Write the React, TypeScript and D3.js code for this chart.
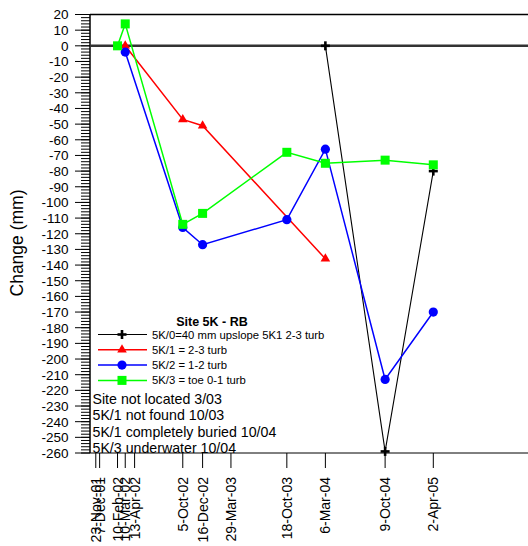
import React from "react";
import * as d3 from "d3";

const tickDates = ["2001-11-23","2001-12-07","2002-02-10","2002-03-10","2002-04-13","2002-10-05","2002-12-16","2003-03-29","2003-10-18","2004-03-06","2004-10-09","2005-04-02"];
const tickLabels = ["23-Nov-01","7-Dec-01","10-Feb-02","10-Mar-02","13-Apr-02","5-Oct-02","16-Dec-02","29-Mar-03","18-Oct-03","6-Mar-04","9-Oct-04","2-Apr-05"];

const s0Dates = ["2004-03-06","2004-10-09","2005-04-02"];
const s0Values = [0, -259, -80];
const s1Dates = ["2002-03-10","2002-10-05","2002-12-16","2004-03-06"];
const s1Values = [0, -47, -51, -136];
const s2Dates = ["2002-03-10","2002-10-05","2002-12-16","2003-10-18","2004-03-06","2004-10-09","2005-04-02"];
const s2Values = [-4, -116, -127, -111, -66, -213, -170];
const s3Dates = ["2002-02-10","2002-03-10","2002-10-05","2002-12-16","2003-10-18","2004-03-06","2004-10-09","2005-04-02"];
const s3Values = [0, 14, -114, -107, -68, -75, -73, -76];

const seriesNames = ["5K/0=40 mm upslope 5K1 2-3 turb","5K/1 = 2-3 turb","5K/2 = 1-2 turb","5K/3 = toe 0-1 turb"];
const seriesColors = ["#000000","#ff0000","#0000ff","#00ff00"];
const seriesMarkers = ["plus","triangle","circle","square"];
const notes = ["Site not located 3/03","5K/1 not found 10/03","5K/1 completely buried 10/04","5K/3 underwater 10/04"];

const parse = d3.timeParse("%Y-%m-%d");

export default function App() {
  const W = 528, H = 546;
  const left = 90, top = 14.5, bottom = 453;
  const x = d3.scaleTime().domain([parse("2001-11-02")!, parse("2006-03-12")!]).range([left, W]);
  const y = d3.scaleLinear().domain([-260, 20]).range([bottom, top]);
  const font = "Liberation Sans, Arial, sans-serif";

  const series = [
    { d: s0Dates, v: s0Values },
    { d: s1Dates, v: s1Values },
    { d: s2Dates, v: s2Values },
    { d: s3Dates, v: s3Values },
  ].map((s, i) => ({
    pts: s.d.map((dd, j) => [x(parse(dd)!), y(s.v[j])] as [number, number]),
    color: seriesColors[i],
    marker: seriesMarkers[i],
    name: seriesNames[i],
  }));

  const line = d3.line<[number, number]>();

  const marker = (m: string, cx: number, cy: number, color: string, key: string) => {
    if (m === "plus")
      return (
        <g key={key} stroke={color} strokeWidth={2.6}>
          <line x1={cx - 4.5} x2={cx + 4.5} y1={cy} y2={cy} />
          <line x1={cx} x2={cx} y1={cy - 4.5} y2={cy + 4.5} />
        </g>
      );
    if (m === "triangle")
      return <path key={key} d={d3.symbol(d3.symbolTriangle, 40)()!} transform={`translate(${cx},${cy})`} fill={color} />;
    if (m === "circle") return <circle key={key} cx={cx} cy={cy} r={4.6} fill={color} />;
    return <rect key={key} x={cx - 4.5} y={cy - 4.5} width={9} height={9} fill={color} />;
  };

  const minorTicks = d3.range(-260, 21, 2);
  const majorTicks = d3.range(-260, 21, 10);

  return (
    <svg width={W} height={H} style={{ position: "absolute", left: 0, top: 0, background: "#fff" }} fontFamily={font}>
      {/* frame */}
      <line x1={left} x2={W} y1={top} y2={top} stroke="#000" strokeWidth={1.6} />
      <line x1={left} x2={W} y1={bottom} y2={bottom} stroke="#000" strokeWidth={1} />
      <line x1={left} x2={left} y1={top} y2={bottom} stroke="#000" strokeWidth={1.5} />
      <line x1={left} x2={W} y1={y(0)} y2={y(0)} stroke="#333" strokeWidth={2.5} />
      {/* y ticks */}
      {minorTicks.map((t) => (
        <line key={"mn" + t} x1={81} x2={left} y1={y(t)} y2={y(t)} stroke="#000" strokeWidth={1} />
      ))}
      {majorTicks.map((t) => (
        <g key={"mj" + t}>
          <line x1={75} x2={left} y1={y(t)} y2={y(t)} stroke="#000" strokeWidth={1} />
          <text x={68.5} y={y(t)} dy="0.36em" textAnchor="end" fontSize={13.5} fill="#000">{t}</text>
        </g>
      ))}
      <text transform={`translate(23,243) rotate(-90)`} textAnchor="middle" fontSize={17.5} fill="#000">Change (mm)</text>
      {/* x ticks */}
      {tickDates.map((td, i) => {
        const tx = x(parse(td)!);
        return (
          <g key={"xt" + i}>
            <line x1={tx} x2={tx} y1={bottom} y2={468} stroke="#000" strokeWidth={1} />
            <text transform={`translate(${tx},477) rotate(-90)`} dy="0.36em" textAnchor="end" fontSize={14} fill="#000">{tickLabels[i]}</text>
          </g>
        );
      })}
      {/* series */}
      {series.map((s, i) => (
        <g key={"s" + i}>
          <path d={line(s.pts)!} fill="none" stroke={s.color} strokeWidth={i === 0 ? 1.1 : 1.5} />
          {s.pts.map((p, j) => marker(s.marker, p[0], p[1], s.color, `m${i}-${j}`))}
        </g>
      ))}
      {/* legend */}
      <text x={212} y={321.5} dy="0.36em" textAnchor="middle" fontSize={12.5} fontWeight="bold" fill="#000">Site 5K - RB</text>
      {series.map((s, i) => {
        const ly = 334.5 + i * 15.3;
        return (
          <g key={"lg" + i}>
            <line x1={98} x2={147} y1={ly} y2={ly} stroke={s.color} strokeWidth={i === 0 ? 1.1 : 1.5} />
            {marker(s.marker, 122, ly, s.color, "lm" + i)}
            <text x={152} y={ly} dy="0.36em" fontSize={11.3} fill="#000">{s.name}</text>
          </g>
        );
      })}
      {notes.map((n, i) => (
        <text key={"n" + i} x={92.5} y={399 + i * 16.2} dy="0.36em" fontSize={14.2} fill="#000">{n}</text>
      ))}
    </svg>
  );
}
